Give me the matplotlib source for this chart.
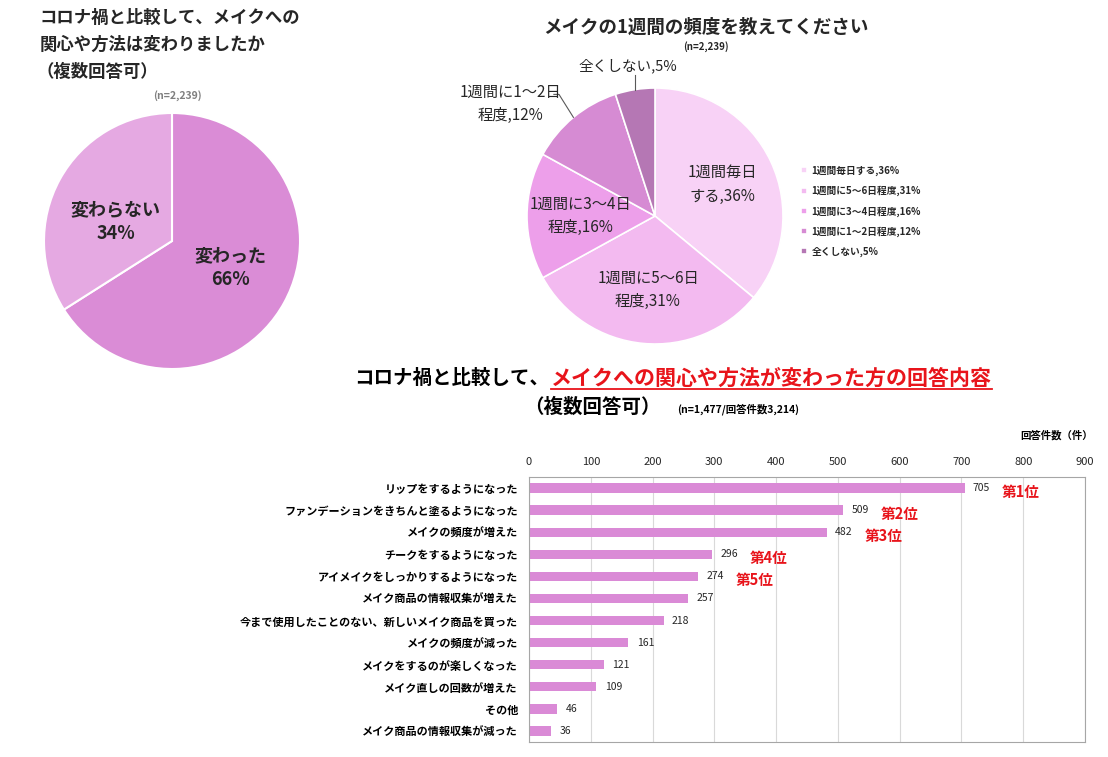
import matplotlib
matplotlib.use("Agg")
import matplotlib.pyplot as plt
from matplotlib.lines import Line2D
import numpy as np

plt.rcParams["font.family"] = ["Noto Sans CJK JP", "DejaVu Sans"]

W, H = 1108, 757

# --- data ---
change_labels = ["変わった", "変わらない"]
change_values = [66, 34]
change_colors = ["#DA8CD6", "#E5A9E2"]

freq_labels = ["1週間毎日する", "1週間に5～6日程度", "1週間に3～4日程度", "1週間に1～2日程度", "全くしない"]
freq_pie_labels = ["1週間毎日\nする", "1週間に5～6日\n程度", "1週間に3～4日\n程度", "1週間に1～2日\n程度", "全くしない"]
freq_values = [36, 31, 16, 12, 5]
freq_colors = ["#F8D2F6", "#F3BAF0", "#ED9FEA", "#D68BD3", "#B577B4"]

answers = [
    "リップをするようになった",
    "ファンデーションをきちんと塗るようになった",
    "メイクの頻度が増えた",
    "チークをするようになった",
    "アイメイクをしっかりするようになった",
    "メイク商品の情報収集が増えた",
    "今まで使用したことのない、新しいメイク商品を買った",
    "メイクの頻度が減った",
    "メイクをするのが楽しくなった",
    "メイク直しの回数が増えた",
    "その他",
    "メイク商品の情報収集が減った",
]
counts = [705, 509, 482, 296, 274, 257, 218, 161, 121, 109, 46, 36]
ranks = ["第1位", "第2位", "第3位", "第4位", "第5位"]
bar_color = "#DA8AD6"
text_color = "#262626"

title1_lines = ["コロナ禍と比較して、メイクへの", "関心や方法は変わりましたか", "（複数回答可）"]


def fx(x):
    return x / W


def fy(y):
    return 1 - y / H


fig = plt.figure(figsize=(W / 100, H / 100), dpi=100)

# --- pie 1 ---
for k, line in enumerate(title1_lines):
    fig.text(fx(40 if k < 2 else 36), fy(18 + 27 * k), line, ha="left", va="center",
             fontsize=12.5, fontweight="bold", color=text_color)
fig.text(fx(177), fy(96), "(n=2,239)", ha="center", va="center", fontsize=7.5, fontweight="bold", color="#7F7F7F")

ax1 = fig.add_axes([fx(44), fy(369), 256 / W, 256 / H])
w1, _ = ax1.pie(change_values, colors=change_colors, startangle=90, counterclock=False,
                wedgeprops=dict(edgecolor="white", linewidth=1.5))
ax1.set_xlim(-1, 1)
ax1.set_ylim(-1, 1)
# label offsets (radius, vertical shift) per slice
for w, lab, v, (r, dy) in zip(w1, change_labels, change_values, [(0.52, 0.04), (0.5, -0.09)]):
    ang = np.deg2rad((w.theta1 + w.theta2) / 2)
    ax1.text(r * np.cos(ang), r * np.sin(ang) + dy, f"{lab}\n{v}%", ha="center", va="center",
             fontsize=13, fontweight="bold", color=text_color, linespacing=1.3)

# --- pie 2 ---
fig.text(fx(706), fy(27), "メイクの1週間の頻度を教えてください", ha="center", va="center",
         fontsize=13.3, fontweight="bold", color=text_color)
fig.text(fx(706), fy(47), "(n=2,239)", ha="center", va="center", fontsize=7, fontweight="bold", color=text_color)

ax2 = fig.add_axes([fx(527), fy(344), 256 / W, 256 / H])
wedges, _ = ax2.pie(freq_values, colors=freq_colors, startangle=90, counterclock=False,
                    wedgeprops=dict(edgecolor="white", linewidth=1.2))
ax2.set_xlim(-1, 1)
ax2.set_ylim(-1, 1)

for i, (w, lab, v) in enumerate(zip(wedges, freq_pie_labels, freq_values)):
    ang = np.deg2rad((w.theta1 + w.theta2) / 2)
    ca, sa = np.cos(ang), np.sin(ang)
    txt = f"{lab},{v}%"
    if i < 3:
        ax2.text(0.58 * ca, 0.58 * sa, txt, ha="center", va="center", fontsize=11,
                 color=text_color, linespacing=1.5)
    elif i == 3:
        ax2.text(-1.13, 0.875, txt, ha="center", va="center", fontsize=11,
                 color=text_color, linespacing=1.5, clip_on=False)
        ax2.add_line(Line2D([-0.79, -0.75, ca], [0.95, 0.95, sa], color="#595959", lw=0.8, clip_on=False))
    else:
        ax2.text(-0.21, 1.17, txt, ha="center", va="center", fontsize=10.5, color=text_color, clip_on=False)
        ax2.add_line(Line2D([ca, ca], [1.1, sa], color="#595959", lw=0.8, clip_on=False))

fig.legend(wedges, [f"{l},{v}%" for l, v in zip(freq_labels, freq_values)],
           loc="upper left", bbox_to_anchor=(fx(792), fy(157)), frameon=False,
           prop=dict(size=7, weight="bold"), handlelength=0.6, handleheight=0.6,
           handletextpad=0.5, labelspacing=1.0, labelcolor=text_color)

# --- bar chart ---
fig.text(fx(549), fy(378), "コロナ禍と比較して、", ha="right", va="center",
         fontsize=14, fontweight="bold", color="black")
t_red = fig.text(fx(551), fy(378), "メイクへの関心や方法が変わった方の回答内容", ha="left", va="center",
                 fontsize=15.1, fontweight="bold", color="#E8141B")
fig.text(fx(592), fy(407), "（複数回答可）", ha="center", va="center", fontsize=14, fontweight="bold", color="black")
fig.text(fx(677), fy(409), "(n=1,477/回答件数3,214)", ha="left", va="center", fontsize=7.5,
         fontweight="bold", color="black")
fig.text(fx(1093), fy(435), "回答件数（件）", ha="right", va="center", fontsize=7.5, fontweight="bold", color="black")

ax3 = fig.add_axes([fx(529), fy(742), (1085 - 529) / W, (742 - 477) / H])
y = np.arange(len(answers))
bars = ax3.barh(y, counts, height=0.42, color=bar_color, zorder=2)
ax3.set_ylim(len(answers) - 0.5, -0.5)
ax3.set_xlim(0, 900)
ax3.set_xticks(np.arange(0, 901, 100))
ax3.xaxis.tick_top()
ax3.tick_params(axis="x", length=0, pad=7, labelsize=8, labelcolor=text_color)
ax3.set_yticks(y)
ax3.set_yticklabels(answers, fontsize=8, fontweight="bold", color="black")
ax3.tick_params(axis="y", length=0, pad=8)
ax3.grid(axis="x", color="#D9D9D9", lw=0.8, zorder=0)
ax3.set_axisbelow(True)
for s in ax3.spines.values():
    s.set_color("#A6A6A6")
    s.set_linewidth(0.8)

ax3.bar_label(bars, labels=[str(c) for c in counts], padding=6, fontsize=7.5, color=text_color)
for i, r in enumerate(ranks):
    ax3.annotate(r, (counts[i], y[i]), xytext=(27, -2.5), textcoords="offset points",
                 ha="left", va="center", fontsize=10.5, fontweight="bold", color="#E8141B")

# underline the red part of the title
fig.canvas.draw()
bb = t_red.get_window_extent()
fig.add_artist(Line2D([bb.x0 / W, bb.x1 / W], [(bb.y0 - 1) / H, (bb.y0 - 1) / H],
                      color="#E8141B", lw=1.3, transform=fig.transFigure))

fig.savefig("out.png", dpi=100)
